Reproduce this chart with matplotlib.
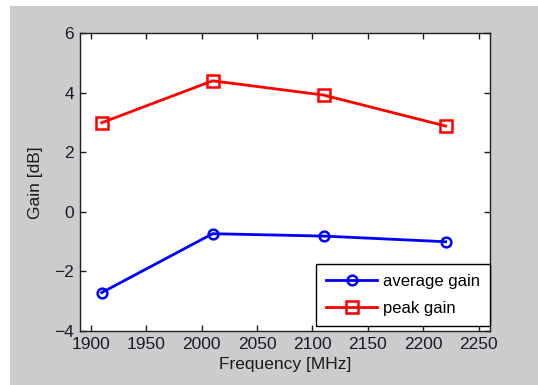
import matplotlib
matplotlib.use("Agg")
import matplotlib.pyplot as plt
from matplotlib.patches import Rectangle

# measured gain vs. frequency
freq_mhz = [1910, 2010, 2110, 2220]
avg_gain = [-2.71, -0.73, -0.81, -1.0]
peak_gain = [3.0, 4.41, 3.93, 2.89]

x_ticks = [1900, 1950, 2000, 2050, 2100, 2150, 2200, 2250]
y_ticks = [-4, -2, 0, 2, 4, 6]

plt.rcParams['font.family'] = ['Liberation Sans', 'DejaVu Sans']
plt.rcParams['font.size'] = 12

fig = plt.figure(figsize=(5.38, 3.85), dpi=100, facecolor='white')
# grey figure panel, offset from the top-left edge
fig.patches.append(Rectangle((10 / 538, 0), 1, 1 - 6 / 385, transform=fig.transFigure,
                             facecolor='#cccccc', edgecolor='none', zorder=-1))

ax = fig.add_axes([0.1478, 0.1403, 0.7630, 0.7727])
ax.plot(freq_mhz, avg_gain, color='#0000ff', lw=2, marker='o', ms=7,
        mfc='none', mec='#0000ff', mew=1.8, label='average gain')
ax.plot(freq_mhz, peak_gain, color='#ff0000', lw=2, marker='s', ms=8,
        mfc='none', mec='#ff0000', mew=1.8, label='peak gain')

ax.set_xlim(1890, 2260)
ax.set_ylim(-4, 6)
ax.set_xticks(x_ticks)
ax.set_yticks(y_ticks)
ax.tick_params(direction='in', top=True, right=True, length=4, width=1,
               labelsize=12.5, colors='#1a1a2e', pad=4)
for s in ax.spines.values():
    s.set_linewidth(1)
    s.set_color('#202020')

ax.set_xlabel('Frequency [MHz]', fontsize=12.5, labelpad=4, color='#1a1a1a')
ax.set_ylabel('Gain [dB]', fontsize=12.5, labelpad=8, color='#1a1a1a')

leg = ax.legend(loc='lower right', bbox_to_anchor=(1.0, 5 / 297.5), borderaxespad=0,
                fancybox=False, framealpha=1, edgecolor='black',
                handlelength=3.05, borderpad=0.6, labelspacing=0.7,
                handletextpad=0.35, fontsize=12)
leg.get_frame().set_linewidth(1)

fig.savefig('out.png', dpi=100, facecolor=fig.get_facecolor())
